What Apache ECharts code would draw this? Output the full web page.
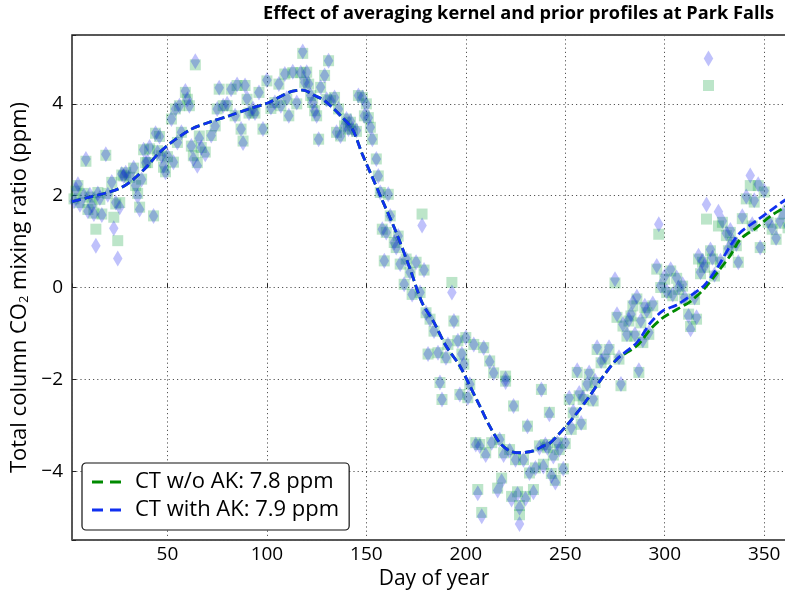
<!DOCTYPE html>
<html>
<head>
<meta charset="utf-8">
<script src="https://cdn.jsdelivr.net/npm/echarts@6/dist/echarts.min.js"></script>
<style>
html,body{margin:0;padding:0;background:#fff;}
#chart{width:785px;height:593px;}
</style>
</head>
<body>
<div id="chart"></div>
<script>
// Observations: day of year, CT without AK (squares), CT with AK (diamonds)
const obsDays = [3,4,5,6,8,9,10,11,12,13,14,15,16,17,19,20,22,23,24,25,26,27,28,29,31,33,34,35,36,37,38,39,40,41,43,44,45,46,47,48,49,50,52,53,54,55,56,57,59,60,61,62,63,64,65,66,67,69,72,74,75,76,78,80,82,84,85,87,88,89,90,91,93,94,96,98,100,102,104,106,107,109,110,111,113,115,117,118,119,120,121,122,123,124,125,126,127,129,130,131,132,134,135,136,137,139,140,141,142,143,145,146,148,149,150,151,152,153,155,156,157,158,159,160,161,162,164,165,166,167,169,170,172,173,175,177,178,179,180,181,182,184,186,187,188,190,191,193,194,196,197,198,199,200,201,202,204,205,206,207,208,209,210,212,213,214,216,217,218,219,220,220,222,223,224,225,226,227,227,229,230,231,232,234,235,237,238,239,240,241,242,243,244,245,246,247,249,250,252,253,254,256,257,258,259,261,262,264,265,266,268,270,272,275,276,277,278,279,281,282,283,284,285,286,287,288,289,290,291,292,294,296,297,298,300,301,303,304,306,307,309,310,312,313,315,316,317,318,319,320,321,322,323,324,325,327,328,329,331,332,333,334,336,337,339,341,343,344,345,347,348,350,352,354,356,358,360,362];
const noAK = [1.93,2.10,2.22,1.85,2.05,2.75,1.70,1.97,1.85,1.62,1.27,2.07,1.92,1.60,2.88,2.05,2.29,1.53,1.82,1.02,1.85,2.45,2.43,2.50,2.40,2.60,2.22,2.05,1.75,2.36,3.00,2.72,2.72,3.02,1.56,3.36,2.98,3.29,2.87,2.62,2.52,2.85,3.67,2.73,3.89,3.16,3.96,3.38,4.25,4.10,3.96,3.08,2.87,4.85,2.72,3.30,3.05,2.95,3.31,3.52,3.89,4.32,3.96,3.96,4.32,3.74,4.40,3.45,3.19,4.40,4.10,3.80,3.85,3.80,4.25,3.45,4.50,3.90,4.03,4.43,3.96,4.65,4.10,3.74,4.68,4.00,4.68,5.10,4.47,4.69,4.43,4.18,4.03,3.85,3.74,3.23,4.36,4.62,4.10,4.94,4.07,4.14,3.38,3.89,3.30,3.52,3.67,3.45,3.60,3.45,3.40,4.18,4.14,3.74,4.00,3.70,3.49,3.23,2.80,2.43,2.07,1.27,0.58,1.20,2.03,1.56,0.98,0.87,1.12,0.51,0.07,0.62,0.33,-0.15,0.55,-0.11,1.60,0.38,-0.55,-1.45,-0.69,-0.95,-1.42,-2.07,-2.44,-1.53,-1.24,0.11,-0.73,-1.16,-2.33,-1.45,-1.67,-1.09,-2.40,-2.11,-1.24,-3.38,-4.40,-3.42,-4.90,-1.31,-3.60,-1.60,-3.38,-1.86,-4.37,-3.31,-4.15,-3.60,-1.93,-2.04,-3.53,-4.55,-2.58,-3.75,-4.45,-4.75,-4.95,-3.75,-4.55,-3.02,-4.04,-4.40,-3.93,-3.45,-2.22,-3.85,-3.42,-3.49,-2.72,-4.05,-3.65,-4.20,-3.38,-3.53,-3.95,-3.40,-2.44,-3.09,-2.73,-1.85,-2.36,-2.98,-2.44,-2.14,-1.89,-2.47,-2.07,-1.35,-1.64,-1.56,-1.35,0.10,-0.65,-1.56,-2.14,-0.84,-1.06,-0.73,-0.62,-0.40,-1.06,-0.25,-1.85,-0.77,-1.20,-0.44,-0.55,-1.02,-0.40,0.40,1.16,0.00,0.18,-0.11,0.36,-0.18,0.20,-0.04,0.03,-0.25,-0.58,-0.85,-0.26,-0.69,0.62,0.30,0.55,0.44,1.49,4.40,0.80,0.62,0.25,1.34,0.55,1.42,1.13,0.80,1.20,0.98,0.91,0.55,1.50,1.93,2.22,1.34,1.86,2.22,0.87,2.08,1.42,1.27,1.05,1.40,1.60,1.30];
const withAK = [1.88,2.14,2.25,1.80,2.00,2.80,1.66,2.02,1.78,1.60,0.91,2.05,1.95,1.58,2.90,2.02,2.30,1.29,1.85,0.63,1.75,2.47,2.43,2.50,2.42,2.61,2.22,1.99,1.70,2.35,3.00,2.72,2.75,3.06,1.56,3.36,2.94,3.29,2.87,2.65,2.51,2.87,3.67,2.73,3.89,3.16,3.96,3.38,4.28,4.10,3.96,3.08,2.80,4.93,2.65,3.25,3.05,2.90,3.31,3.52,3.89,4.35,3.96,4.00,4.32,3.74,4.42,3.45,3.15,4.40,4.12,3.80,3.90,3.80,4.25,3.45,4.52,3.92,4.03,4.43,3.96,4.65,4.12,3.74,4.70,4.03,4.68,5.14,4.47,4.69,4.43,4.18,4.03,3.85,3.74,3.23,4.36,4.62,4.10,4.94,4.07,4.14,3.38,3.89,3.30,3.52,3.67,3.45,3.62,3.45,3.42,4.18,4.14,3.74,3.98,3.70,3.49,3.23,2.80,2.43,2.07,1.27,0.58,1.20,2.03,1.56,0.98,0.87,1.12,0.51,0.07,0.62,0.33,-0.15,0.55,-0.11,1.35,0.38,-0.55,-1.45,-0.69,-0.95,-1.42,-2.07,-2.44,-1.53,-1.24,-0.11,-0.73,-1.16,-2.33,-1.45,-1.67,-1.09,-2.40,-2.11,-1.24,-3.42,-4.48,-3.45,-4.98,-1.31,-3.65,-1.62,-3.38,-1.86,-4.42,-3.31,-4.22,-3.65,-1.98,-2.06,-3.55,-4.62,-2.58,-3.75,-4.50,-4.80,-5.15,-3.75,-4.60,-3.02,-4.04,-4.46,-3.93,-3.49,-2.22,-3.90,-3.42,-3.49,-2.76,-4.10,-3.68,-4.25,-3.38,-3.53,-3.95,-3.38,-2.40,-3.05,-2.70,-1.80,-2.30,-2.95,-2.40,-2.10,-1.85,-2.43,-2.03,-1.30,-1.60,-1.50,-1.30,0.18,-0.58,-1.52,-2.10,-0.80,-1.02,-0.70,-0.58,-0.32,-1.02,-0.20,-1.80,-0.72,-1.15,-0.40,-0.50,-0.98,-0.35,0.47,1.38,0.04,0.25,-0.08,0.40,-0.15,0.22,0.00,0.07,-0.22,-0.62,-0.91,-0.22,-0.65,0.69,0.33,0.58,0.47,1.81,4.99,0.83,0.65,0.28,1.65,0.58,1.45,1.18,0.85,1.25,1.02,0.95,0.55,1.55,1.98,2.44,1.38,1.90,2.25,0.87,2.11,1.45,1.30,1.08,1.45,1.65,1.35];

// Smoothed model curves
const curveDays = [2,10,20,27,33,40,45,52,62,71,81,91,101,111,118,124,129,138,143,148,153,158,165,172,178,184,190,197,202,207,212,217,222,227,234,239,242,252,261,268,276,286,293,299,306,313,320,326,333,338,346,353,360,366];
const curveNoAK = [1.87,1.96,2.07,2.18,2.36,2.65,2.90,3.16,3.45,3.60,3.74,3.89,4.03,4.25,4.30,4.18,4.07,3.70,3.45,2.90,2.40,1.90,1.20,0.40,-0.33,-0.76,-1.27,-1.71,-2.14,-2.58,-3.02,-3.38,-3.56,-3.60,-3.56,-3.45,-3.40,-2.94,-2.44,-2.00,-1.56,-1.27,-0.90,-0.66,-0.48,-0.30,-0.02,0.30,0.70,1.05,1.30,1.55,1.74,1.90];
const curveWithAK = [1.87,1.96,2.07,2.18,2.36,2.65,2.90,3.16,3.45,3.60,3.74,3.89,4.03,4.25,4.30,4.18,4.07,3.70,3.45,2.90,2.40,1.90,1.20,0.40,-0.33,-0.76,-1.27,-1.71,-2.14,-2.58,-3.02,-3.38,-3.56,-3.60,-3.56,-3.45,-3.40,-2.94,-2.44,-2.00,-1.56,-1.20,-0.76,-0.51,-0.38,-0.18,0.05,0.40,0.91,1.20,1.45,1.67,1.89,2.05];

const xTicks = [50,100,150,200,250,300,350];
const yTicks = [-4,-2,0,2,4];
const legendNames = ['CT w/o AK: 7.8 ppm','CT with AK: 7.9 ppm'];
const titleText = 'Effect of averaging kernel and prior profiles at Park Falls';

const FONT = 'Open Sans';
const zip = (a,b) => a.map((v,i)=>[v,b[i]]);
const DASH_ICON = 'path://M0,0 H11 V3 H0 Z M18,0 H29 V3 H18 Z';

const chart = echarts.init(document.getElementById('chart'), null, {renderer:'canvas'});
const option = {
  animation:false,
  backgroundColor:'#fff',
  title:{
    text:titleText, left:263, top:5, padding:0,
    textStyle:{fontFamily:FONT, fontWeight:'bold', fontSize:18.2, color:'#000'}
  },
  grid:{left:72, top:35, height:505, width:724, outerBoundsMode:'none',
        show:true, borderColor:'#222', borderWidth:1.5, backgroundColor:'transparent', containLabel:false},
  legend:{
    data:legendNames.map(n=>({name:n, icon:DASH_ICON})), orient:'vertical', left:82, top:463,
    padding:[7,10,8,10], itemGap:4, itemWidth:29, itemHeight:3,
    backgroundColor:'#fff', borderColor:'#111', borderWidth:1.2, borderRadius:4,
    textStyle:{fontFamily:FONT, fontSize:22, color:'#000', lineHeight:24, padding:[0,0,0,9]}
  },
  xAxis:{
    type:'value', min:2, max:366, splitNumber:8,
    name:'Day of year', nameLocation:'middle', nameGap:26,
    nameTextStyle:{fontFamily:FONT, fontSize:21, color:'#000'},
    axisLine:{show:false},
    axisTick:{show:true, inside:true, length:4, lineStyle:{color:'#222'}},
    axisLabel:{fontFamily:FONT, fontSize:19, color:'#000', margin:5,
      formatter:v => xTicks.includes(v) ? String(v) : ''},
    splitLine:{show:true, lineStyle:{color:'#555', type:[1.2,3], width:1}}
  },
  yAxis:{
    type:'value', min:-5.5, max:5.5,
    name:'{a|Total column CO}{s|2}{a| mixing ratio (ppm)}', nameLocation:'middle', nameGap:38,
    nameTextStyle:{fontFamily:FONT, fontSize:22, color:'#000',
      rich:{a:{fontFamily:FONT, fontSize:22, color:'#000'}, s:{fontFamily:FONT, fontSize:13, color:'#000', verticalAlign:'bottom'}}},
    axisLine:{show:false},
    axisTick:{show:true, inside:true, length:4, lineStyle:{color:'#222'}},
    axisLabel:{fontFamily:FONT, fontSize:19, color:'#000', margin:9,
      formatter:v => yTicks.includes(v) ? String(v).replace('-','\u2212') : ''},
    splitLine:{show:true, lineStyle:{color:'#555', type:[1.2,3], width:1}}
  },
  series:[
    {type:'scatter', name:'sq', data:zip(obsDays,noAK), symbol:'rect', symbolSize:11,
     itemStyle:{color:'rgba(0,155,50,0.33)'}, silent:true, z:2},
    {type:'scatter', name:'dia', data:zip(obsDays,withAK), symbol:'path://M5,0 L10,8 L5,16 L0,8 Z', symbolSize:[9.5,16],
     itemStyle:{color:'rgba(10,20,240,0.33)'}, silent:true, z:3},
    {type:'line', name:legendNames[0], data:zip(curveDays,curveNoAK), symbol:'none', smooth:0.3,
     lineStyle:{color:'#008a00', width:2.8, type:[9,4]}, itemStyle:{color:'#008a00'}, z:4},
    {type:'line', name:legendNames[1], data:zip(curveDays,curveWithAK), symbol:'none', smooth:0.3,
     lineStyle:{color:'#1030f0', width:2.8, type:[9,4]}, itemStyle:{color:'#1030f0'}, z:5}
  ]
};
chart.setOption(option);
</script>
</body>
</html>
